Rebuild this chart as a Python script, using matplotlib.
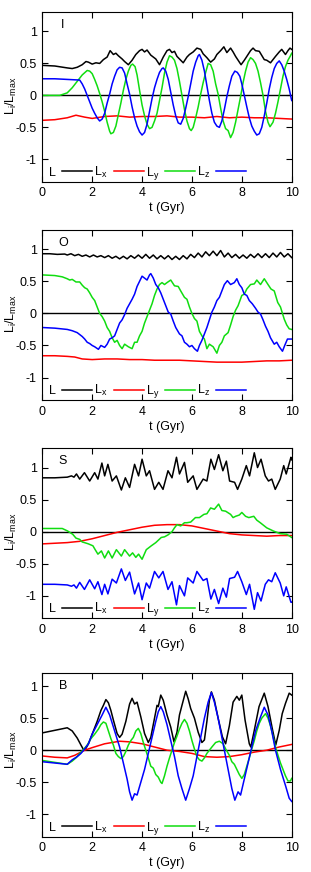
import matplotlib
matplotlib.use("Agg")
import matplotlib.pyplot as plt

plt.rcParams['font.family'] = ['Liberation Sans', 'DejaVu Sans']
plt.rcParams['mathtext.fontset'] = 'custom'
plt.rcParams['mathtext.rm'] = 'Liberation Sans'
plt.rcParams['mathtext.it'] = 'Liberation Sans'
plt.rcParams['axes.unicode_minus'] = False

# ---------------- data ----------------
panel_names = ["I", "O", "S", "B"]
legend_labels = ["L", r"L$_\mathrm{x}$", r"L$_\mathrm{y}$", r"L$_\mathrm{z}$"]
xticks = [0, 2, 4, 6, 8, 10]
xticklabels = ["0", "2", "4", "6", "8", "10"]
yticks = [-1, -0.5, 0, 0.5, 1]
yticklabels = ["-1", "-0.5", "0", "0.5", "1"]

# Panel I
I_L_t = [0.0, 0.5, 1.0, 1.2, 1.4, 1.6, 1.75, 1.85, 2.0, 2.15, 2.3, 2.45, 2.6, 2.72, 2.85, 2.95, 3.05, 3.2, 3.3, 3.45,
         3.6, 3.75, 3.9, 4.0, 4.1, 4.2, 4.35, 4.45, 4.55, 4.7, 4.85, 5.0, 5.1, 5.2, 5.3, 5.4, 5.5, 5.65, 5.8, 5.9,
         6.05, 6.2, 6.35, 6.45, 6.6, 6.75, 6.9, 7.0, 7.15, 7.28, 7.4, 7.55, 7.65, 7.75, 7.97, 8.1, 8.2, 8.35, 8.45,
         8.55, 8.7, 8.9, 9.0, 9.15, 9.35, 9.5, 9.6, 9.75, 9.85, 9.93, 10.0]
I_L = [0.47, 0.46, 0.43, 0.42, 0.44, 0.48, 0.53, 0.52, 0.49, 0.51, 0.50, 0.56, 0.60, 0.70, 0.64, 0.66, 0.62, 0.57, 0.53, 0.48,
       0.55, 0.64, 0.70, 0.72, 0.68, 0.71, 0.63, 0.60, 0.57, 0.48, 0.60, 0.70, 0.72, 0.67, 0.69, 0.61, 0.57, 0.51, 0.60, 0.64,
       0.68, 0.74, 0.72, 0.65, 0.59, 0.52, 0.57, 0.64, 0.70, 0.76, 0.67, 0.74, 0.68, 0.61, 0.48, 0.55, 0.61, 0.70, 0.74,
       0.70, 0.69, 0.56, 0.55, 0.51, 0.61, 0.68, 0.72, 0.64, 0.70, 0.74, 0.72]
I_x_t = [0.0, 0.5, 1.0, 1.35, 1.7, 2.0, 2.5, 3.0, 3.5, 4.0, 4.5, 5.0, 5.5, 6.0, 6.5, 7.0, 7.5, 8.0, 8.5, 9.0, 9.5, 10.0]
I_x = [-0.39, -0.38, -0.35, -0.31, -0.34, -0.36, -0.33, -0.32, -0.34, -0.33, -0.33, -0.32, -0.34, -0.34, -0.35, -0.33,
       -0.35, -0.34, -0.35, -0.35, -0.36, -0.37]
I_y_t = [0.0, 0.7, 1.0, 1.2, 1.4, 1.6, 1.8, 1.9, 2.0, 2.1, 2.2, 2.3, 2.4, 2.5, 2.6, 2.7, 2.75, 2.85, 2.95, 3.05, 3.15,
         3.25, 3.35, 3.45, 3.55, 3.62, 3.72, 3.8, 3.9, 4.0, 4.1, 4.2, 4.3, 4.4, 4.5, 4.6, 4.7, 4.8, 4.9, 5.0, 5.1, 5.2,
         5.3, 5.4, 5.5, 5.6, 5.7, 5.8, 5.9, 5.97, 6.05, 6.15, 6.25, 6.35, 6.45, 6.55, 6.65, 6.75, 6.85, 6.95, 7.05,
         7.15, 7.25, 7.35, 7.45, 7.55, 7.65, 7.75, 7.85, 7.95, 8.05, 8.15, 8.25, 8.35, 8.45, 8.55, 8.65, 8.75, 8.85,
         8.95, 9.05, 9.13, 9.25, 9.35, 9.45, 9.55, 9.65, 9.75, 9.85, 9.95, 10.0]
I_y = [0.0, 0.0, 0.04, 0.12, 0.22, 0.32, 0.39, 0.38, 0.34, 0.25, 0.15, 0.03, -0.10, -0.25, -0.42, -0.56, -0.60, -0.58,
       -0.48, -0.30, -0.12, 0.08, 0.25, 0.38, 0.47, 0.49, 0.45, 0.32, 0.08, -0.15, -0.32, -0.45, -0.52, -0.50, -0.40,
       -0.28, -0.08, 0.12, 0.35, 0.52, 0.62, 0.60, 0.55, 0.42, 0.22, 0.0, -0.22, -0.40, -0.52, -0.55, -0.50, -0.35,
       -0.18, 0.02, 0.20, 0.36, 0.50, 0.48, 0.38, 0.18, 0.02, -0.20, -0.40, -0.52, -0.55, -0.66, -0.58, -0.42, -0.22,
       -0.02, 0.20, 0.38, 0.52, 0.59, 0.56, 0.50, 0.38, 0.20, 0.0, -0.25, -0.42, -0.49, -0.42, -0.28, -0.10, 0.10,
       0.30, 0.45, 0.55, 0.62, 0.66]
I_z_t = [0.0, 0.5, 1.0, 1.5, 1.6, 1.7, 1.8, 1.9, 2.0, 2.1, 2.2, 2.3, 2.4, 2.5, 2.6, 2.7, 2.8, 2.9, 3.0, 3.1, 3.2, 3.3,
         3.4, 3.5, 3.6, 3.7, 3.8, 3.9, 4.0, 4.1, 4.2, 4.3, 4.4, 4.5, 4.6, 4.7, 4.8, 4.85, 4.95, 5.05, 5.15, 5.25, 5.35,
         5.45, 5.55, 5.65, 5.75, 5.85, 5.95, 6.05, 6.15, 6.25, 6.3, 6.4, 6.5, 6.6, 6.7, 6.8, 6.9, 7.0, 7.1, 7.2, 7.3,
         7.4, 7.5, 7.6, 7.72, 7.82, 7.92, 8.0, 8.1, 8.2, 8.3, 8.4, 8.5, 8.6, 8.7, 8.8, 8.9, 9.0, 9.1, 9.2, 9.3, 9.4,
         9.5, 9.6, 9.7, 9.8, 9.9, 10.0]
I_z = [0.26, 0.26, 0.25, 0.24, 0.18, 0.10, 0.0, -0.10, -0.20, -0.28, -0.35, -0.40, -0.37, -0.28, -0.12, 0.02, 0.18,
       0.30, 0.40, 0.44, 0.43, 0.35, 0.18, 0.02, -0.18, -0.35, -0.48, -0.57, -0.62, -0.58, -0.45, -0.25, -0.05, 0.12,
       0.25, 0.36, 0.42, 0.43, 0.38, 0.25, 0.05, -0.15, -0.32, -0.43, -0.45, -0.36, -0.20, -0.02, 0.18, 0.38, 0.52,
       0.62, 0.64, 0.55, 0.38, 0.15, -0.08, -0.28, -0.42, -0.48, -0.50, -0.40, -0.22, -0.02, 0.15, 0.30, 0.38, 0.36,
       0.30, 0.18, 0.0, -0.18, -0.35, -0.48, -0.56, -0.62, -0.60, -0.50, -0.32, -0.12, 0.10, 0.28, 0.42, 0.50, 0.54,
       0.48, 0.38, 0.25, 0.10, -0.08]

# Panel O
O_L_t = [0.0, 0.3, 0.6, 0.9, 1.0, 1.15, 1.3, 1.45, 1.6, 1.75, 1.9, 2.05, 2.2, 2.35, 2.5, 2.65, 2.8, 2.95, 3.1, 3.25,
         3.4, 3.55, 3.7, 3.85, 4.0, 4.15, 4.3, 4.45, 4.6, 4.75, 4.9, 5.05, 5.2, 5.35, 5.5, 5.65, 5.8, 5.95, 6.1,
         6.25, 6.4, 6.55, 6.7, 6.85, 7.0, 7.15, 7.3, 7.45, 7.6, 7.75, 7.9, 8.05, 8.2, 8.35, 8.5, 8.65, 8.8, 8.95,
         9.1, 9.25, 9.4, 9.55, 9.7, 9.85, 10.0]
O_L = [0.93, 0.93, 0.92, 0.925, 0.91, 0.93, 0.90, 0.92, 0.89, 0.91, 0.88, 0.91, 0.88, 0.90, 0.87, 0.90, 0.86, 0.89,
       0.85, 0.89, 0.85, 0.90, 0.86, 0.91, 0.86, 0.92, 0.86, 0.91, 0.85, 0.90, 0.85, 0.90, 0.84, 0.89, 0.84, 0.90,
       0.85, 0.92, 0.87, 0.94, 0.88, 0.96, 0.90, 0.97, 0.90, 0.98, 0.88, 0.94, 0.87, 0.92, 0.86, 0.91, 0.86, 0.92,
       0.87, 0.93, 0.87, 0.93, 0.87, 0.94, 0.88, 0.95, 0.88, 0.93, 0.87]
O_x_t = [0.0, 0.5, 1.0, 1.3, 1.6, 2.0, 2.5, 3.0, 3.5, 4.0, 4.5, 5.0, 5.5, 6.0, 6.5, 7.0, 7.5, 8.0, 8.5, 9.0, 9.5, 10.0]
O_x = [-0.66, -0.66, -0.67, -0.68, -0.71, -0.72, -0.71, -0.71, -0.72, -0.72, -0.73, -0.73, -0.73, -0.74, -0.75, -0.76,
       -0.76, -0.76, -0.75, -0.74, -0.74, -0.73]
O_y_t = [0.0, 0.5, 0.8, 1.0, 1.1, 1.2, 1.35, 1.5, 1.6, 1.7, 1.8, 1.9, 2.0, 2.1, 2.2, 2.3, 2.4, 2.5, 2.6, 2.7, 2.8, 2.9,
         3.0, 3.1, 3.2, 3.3, 3.45, 3.6, 3.7, 3.8, 3.9, 4.0, 4.1, 4.2, 4.3, 4.4, 4.5, 4.6, 4.7, 4.8, 4.9, 5.0, 5.15,
         5.3, 5.45, 5.55, 5.7, 5.8, 5.9, 6.0, 6.1, 6.2, 6.3, 6.4, 6.5, 6.6, 6.7, 6.85, 7.0, 7.1, 7.2, 7.3, 7.45,
         7.55, 7.65, 7.75, 7.85, 8.0, 8.1, 8.2, 8.35, 8.5, 8.6, 8.75, 8.9, 9.05, 9.17, 9.3, 9.44, 9.55, 9.7, 9.8,
         9.9, 10.0]
O_y = [0.60, 0.59, 0.57, 0.54, 0.52, 0.53, 0.49, 0.49, 0.44, 0.40, 0.38, 0.32, 0.25, 0.20, 0.10, 0.0, -0.05, -0.12,
       -0.22, -0.28, -0.38, -0.45, -0.42, -0.50, -0.55, -0.48, -0.52, -0.55, -0.45, -0.45, -0.35, -0.28, -0.15,
       -0.05, 0.05, 0.15, 0.28, 0.38, 0.45, 0.48, 0.45, 0.48, 0.52, 0.43, 0.42, 0.35, 0.25, 0.22, 0.10, 0.0, -0.08,
       -0.12, -0.28, -0.35, -0.40, -0.55, -0.48, -0.52, -0.62, -0.50, -0.45, -0.35, -0.30, -0.18, -0.05, 0.05, 0.12,
       0.28, 0.30, 0.38, 0.45, 0.46, 0.52, 0.45, 0.54, 0.45, 0.38, 0.35, 0.17, 0.10, -0.09, -0.18, -0.24, -0.25]
O_z_t = [0.0, 0.5, 1.0, 1.2, 1.4, 1.6, 1.7, 1.8, 1.9, 2.0, 2.1, 2.25, 2.35, 2.5, 2.6, 2.7, 2.8, 2.9, 3.0, 3.1, 3.2,
         3.3, 3.4, 3.5, 3.6, 3.7, 3.8, 3.9, 4.0, 4.1, 4.2, 4.3, 4.35, 4.45, 4.55, 4.65, 4.75, 4.85, 4.95, 5.05, 5.15,
         5.25, 5.35, 5.5, 5.6, 5.7, 5.8, 5.9, 6.0, 6.1, 6.22, 6.3, 6.4, 6.5, 6.6, 6.7, 6.8, 6.9, 7.0, 7.1, 7.2, 7.3,
         7.42, 7.55, 7.7, 7.8, 7.9, 8.0, 8.1, 8.2, 8.3, 8.42, 8.55, 8.65, 8.75, 8.85, 8.95, 9.05, 9.15, 9.3, 9.4,
         9.5, 9.63, 9.72, 9.83, 10.0]
O_z = [-0.22, -0.23, -0.25, -0.27, -0.30, -0.36, -0.40, -0.45, -0.47, -0.50, -0.52, -0.56, -0.50, -0.53, -0.48, -0.40,
       -0.38, -0.35, -0.25, -0.15, -0.10, -0.02, 0.08, 0.15, 0.22, 0.30, 0.42, 0.50, 0.58, 0.55, 0.52, 0.60, 0.62,
       0.55, 0.45, 0.40, 0.32, 0.22, 0.12, 0.02, -0.01, -0.12, -0.22, -0.32, -0.35, -0.45, -0.48, -0.52, -0.50,
       -0.55, -0.59, -0.50, -0.42, -0.32, -0.22, -0.10, 0.02, 0.10, 0.20, 0.25, 0.35, 0.45, 0.51, 0.45, 0.48, 0.54,
       0.45, 0.40, 0.30, 0.28, 0.20, 0.15, 0.08, 0.02, -0.01, -0.10, -0.20, -0.28, -0.38, -0.48, -0.45, -0.52,
       -0.59, -0.50, -0.40, -0.40]

# Panel S
S_L_t = [0.0, 0.5, 1.0, 1.17, 1.27, 1.37, 1.5, 1.69, 1.9, 2.1, 2.23, 2.39, 2.5, 2.63, 2.8, 2.97, 3.17, 3.33, 3.5, 3.7,
         3.86, 4.0, 4.17, 4.3, 4.5, 4.67, 4.84, 5.04, 5.2, 5.38, 5.5, 5.7, 5.83, 6.05, 6.2, 6.45, 6.6, 6.76, 6.9,
         7.07, 7.24, 7.38, 7.51, 7.71, 7.83, 8.0, 8.18, 8.31, 8.5, 8.63, 8.77, 8.94, 9.07, 9.2, 9.34, 9.54, 9.68,
         9.78, 9.97, 10.0]
S_L = [0.84, 0.84, 0.85, 0.87, 0.85, 0.90, 0.82, 0.92, 0.79, 0.92, 0.82, 1.07, 0.87, 1.05, 0.79, 0.87, 0.65, 0.84,
       0.69, 1.05, 0.87, 1.13, 0.87, 0.95, 0.66, 0.77, 0.66, 0.95, 0.84, 1.16, 0.90, 1.08, 0.77, 0.87, 0.66, 0.82,
       0.79, 1.13, 0.97, 1.20, 0.95, 1.10, 0.79, 0.77, 0.66, 0.82, 1.03, 0.87, 1.23, 1.00, 1.13, 0.87, 0.79, 0.82,
       0.66, 0.82, 1.03, 0.90, 1.16, 1.12]
S_x_t = [0.0, 0.5, 1.0, 1.5, 2.0, 2.5, 3.0, 3.5, 4.0, 4.5, 5.0, 5.5, 6.0, 6.5, 7.0, 7.5, 8.0, 8.5, 9.0, 9.5, 10.0]
S_x = [-0.19, -0.18, -0.17, -0.15, -0.11, -0.06, -0.01, 0.03, 0.07, 0.10, 0.11, 0.11, 0.09, 0.05, 0.01, -0.03, -0.05,
       -0.06, -0.07, -0.06, -0.06]
S_y_t = [0.0, 0.8, 1.02, 1.22, 1.35, 1.5, 1.6, 1.69, 1.85, 2.03, 2.12, 2.23, 2.37, 2.5, 2.65, 2.8, 2.97, 3.17, 3.3,
         3.5, 3.62, 3.75, 3.86, 4.0, 4.17, 4.37, 4.55, 4.77, 4.9, 5.04, 5.2, 5.3, 5.4, 5.55, 5.7, 5.8, 5.95, 6.14,
         6.3, 6.48, 6.6, 6.75, 6.9, 7.07, 7.2, 7.35, 7.55, 7.65, 7.75, 7.9, 8.0, 8.15, 8.28, 8.48, 8.6, 8.74, 9.0,
         9.27, 9.54, 9.8, 10.0]
S_y = [0.05, 0.05, 0.01, -0.04, -0.10, -0.12, -0.16, -0.17, -0.19, -0.22, -0.28, -0.35, -0.30, -0.41, -0.30, -0.41,
       -0.28, -0.38, -0.28, -0.38, -0.33, -0.40, -0.35, -0.43, -0.28, -0.22, -0.17, -0.09, -0.08, -0.05, 0.0, 0.06,
       0.11, 0.09, 0.14, 0.14, 0.15, 0.22, 0.22, 0.27, 0.28, 0.37, 0.35, 0.43, 0.33, 0.32, 0.27, 0.22, 0.24, 0.26,
       0.30, 0.24, 0.22, 0.24, 0.18, 0.14, 0.06, 0.01, -0.03, -0.04, -0.09]
S_z_t = S_L_t
S_z = [-0.82, -0.82, -0.83, -0.85, -0.83, -0.88, -0.79, -0.90, -0.75, -0.89, -0.78, -0.98, -0.82, -0.97, -0.74, -0.80,
       -0.58, -0.76, -0.63, -0.97, -0.80, -1.06, -0.80, -0.88, -0.62, -0.72, -0.62, -0.90, -0.78, -1.14, -0.84, -1.00,
       -0.72, -0.80, -0.62, -0.76, -0.73, -1.05, -0.90, -1.12, -0.88, -1.02, -0.73, -0.71, -0.62, -0.78, -0.98, -0.82,
       -1.21, -0.95, -1.08, -0.82, -0.75, -0.78, -0.64, -0.80, -1.00, -0.86, -1.10, -1.10]

# Panel B
B_L_t = [0.0, 0.5, 1.0, 1.2, 1.4, 1.55, 1.65, 1.75, 1.85, 2.0, 2.2, 2.35, 2.45, 2.55, 2.65, 2.75, 2.85, 3.0, 3.1, 3.2,
         3.35, 3.5, 3.6, 3.7, 3.8, 3.95, 4.1, 4.25, 4.35, 4.5, 4.6, 4.65, 4.75, 4.85, 5.0, 5.15, 5.28, 5.4, 5.5, 5.6,
         5.75, 5.85, 5.95, 6.1, 6.25, 6.4, 6.5, 6.6, 6.7, 6.78, 6.9, 7.05, 7.22, 7.35, 7.5, 7.65, 7.8, 7.9, 8.0, 8.13,
         8.3, 8.36, 8.5, 8.69, 8.9, 9.05, 9.22, 9.36, 9.5, 9.62, 9.75, 9.9, 10.0]
B_L = [0.27, 0.31, 0.35, 0.30, 0.19, 0.08, 0.01, 0.03, 0.10, 0.25, 0.45, 0.62, 0.70, 0.79, 0.74, 0.62, 0.47, 0.26, 0.20,
       0.25, 0.45, 0.72, 0.81, 0.72, 0.75, 0.52, 0.26, 0.12, 0.20, 0.50, 0.70, 0.68, 0.86, 0.78, 0.55, 0.36, 0.13,
       0.28, 0.55, 0.70, 0.92, 0.80, 0.65, 0.50, 0.28, 0.12, 0.16, 0.45, 0.78, 0.91, 0.78, 0.50, 0.21, 0.10, 0.38,
       0.75, 0.84, 0.78, 0.86, 0.47, 0.10, 0.05, 0.31, 0.68, 0.89, 0.68, 0.34, 0.08, 0.31, 0.57, 0.73, 0.89, 0.86]
B_x_t = [0.0, 0.5, 1.0, 1.3, 1.5, 1.7, 2.0, 2.5, 3.1, 3.5, 4.0, 4.5, 5.0, 5.5, 6.0, 6.5, 7.0, 7.5, 8.0, 8.5, 9.0, 9.5, 10.0]
B_x = [-0.09, -0.11, -0.12, -0.08, -0.04, 0.0, 0.04, 0.10, 0.14, 0.13, 0.10, 0.05, 0.0, -0.02, -0.05, -0.10, -0.11,
       -0.10, -0.07, -0.03, 0.0, 0.05, 0.09]
B_y_t = [0.0, 0.5, 1.0, 1.2, 1.35, 1.5, 1.65, 1.8, 1.95, 2.1, 2.25, 2.35, 2.45, 2.55, 2.65, 2.75, 2.85, 2.95, 3.05, 3.15,
         3.25, 3.35, 3.45, 3.55, 3.65, 3.75, 3.85, 3.95, 4.05, 4.15, 4.25, 4.35, 4.45, 4.55, 4.65, 4.75, 4.8, 4.9, 5.0,
         5.1, 5.2, 5.3, 5.4, 5.5, 5.6, 5.7, 5.8, 5.9, 6.0, 6.1, 6.2, 6.3, 6.4, 6.5, 6.6, 6.7, 6.8, 6.95, 7.1, 7.25,
         7.35, 7.5, 7.6, 7.7, 7.8, 7.9, 8.0, 8.1, 8.2, 8.3, 8.4, 8.5, 8.6, 8.7, 8.8, 8.95, 9.05, 9.15, 9.25, 9.35,
         9.45, 9.55, 9.65, 9.75, 9.85, 9.95, 10.0]
B_y = [-0.16, -0.19, -0.22, -0.17, -0.12, -0.05, 0.01, 0.08, 0.18, 0.25, 0.33, 0.40, 0.44, 0.42, 0.30, 0.18, 0.08,
       -0.05, -0.10, -0.13, -0.10, -0.02, 0.08, 0.15, 0.20, 0.30, 0.34, 0.26, 0.12, 0.0, -0.12, -0.25, -0.28, -0.38,
       -0.42, -0.50, -0.52, -0.40, -0.25, -0.12, 0.0, 0.12, 0.22, 0.33, 0.42, 0.48, 0.42, 0.30, 0.15, 0.02, -0.10,
       -0.15, -0.17, -0.12, -0.05, 0.0, 0.05, 0.12, 0.14, 0.10, 0.02, -0.08, -0.18, -0.22, -0.30, -0.38, -0.44,
       -0.38, -0.25, -0.12, 0.02, 0.15, 0.30, 0.42, 0.50, 0.57, 0.50, 0.38, 0.22, 0.05, -0.08, -0.20, -0.30, -0.40,
       -0.48, -0.48, -0.44]
B_z_t = [0.0, 0.5, 1.0, 1.2, 1.4, 1.55, 1.7, 1.85, 2.0, 2.2, 2.4, 2.55, 2.7, 2.9, 3.1, 3.25, 3.4, 3.5, 3.6, 3.7, 3.8,
         3.95, 4.1, 4.25, 4.4, 4.55, 4.65, 4.75, 4.85, 5.0, 5.15, 5.3, 5.45, 5.6, 5.75, 5.9, 6.05, 6.2, 6.35, 6.5,
         6.65, 6.78, 6.9, 7.05, 7.2, 7.35, 7.5, 7.6, 7.72, 7.85, 7.95, 8.1, 8.25, 8.4, 8.55, 8.75, 8.9, 9.05, 9.2,
         9.35, 9.55, 9.75, 9.9, 10.0]
B_z = [-0.18, -0.20, -0.22, -0.15, -0.10, -0.05, 0.02, 0.10, 0.25, 0.40, 0.55, 0.67, 0.55, 0.30, 0.05, -0.20, -0.45,
       -0.65, -0.78, -0.68, -0.70, -0.50, -0.30, -0.05, 0.20, 0.45, 0.60, 0.68, 0.60, 0.40, 0.15, -0.10, -0.40, -0.60,
       -0.78, -0.60, -0.40, -0.10, 0.20, 0.50, 0.75, 0.90, 0.75, 0.50, 0.20, -0.10, -0.40, -0.60, -0.78, -0.65, -0.70,
       -0.45, -0.20, 0.05, 0.30, 0.52, 0.67, 0.55, 0.30, 0.0, -0.30, -0.55, -0.75, -0.80]

panels = [
    ("I", [(I_L_t, I_L), (I_x_t, I_x), (I_y_t, I_y), (I_z_t, I_z)], 1.3),
    ("O", [(O_L_t, O_L), (O_x_t, O_x), (O_y_t, O_y), (O_z_t, O_z)], 1.3),
    ("S", [(S_L_t, S_L), (S_x_t, S_x), (S_y_t, S_y), (S_z_t, S_z)], 1.3),
    ("B", [(B_L_t, B_L), (B_x_t, B_x), (B_y_t, B_y), (B_z_t, B_z)], 1.2),
]

colors = ["black", "#ff0000", "#10dd10", "#0000ff"]

# ---------------- figure ----------------
W, H = 311, 872
fig = plt.figure(figsize=(W / 100, H / 100), dpi=100)

ax_px = [(12.3, 181.7), (230.0, 400.0), (448.3, 618.3), (673.3, 836.7)]
left_px, right_px = 42.3, 291.7
fs = 9

for (name, series, ytop), (top, bot) in zip(panels, ax_px):
    h = bot - top
    ax = fig.add_axes([left_px / W, 1 - bot / H, (right_px - left_px) / W, h / H])
    ax.axhline(0, color="black", lw=1.0, zorder=1)
    for (t, v), c, lab in zip(series, colors, legend_labels):
        ax.plot(t, v, color=c, lw=1.1, label=lab, zorder=2)
    ax.set_xlim(0, 10)
    ax.set_ylim(-1.35, ytop)
    ax.set_xticks(xticks)
    ax.set_xticklabels(xticklabels)
    ax.set_yticks(yticks)
    ax.set_yticklabels(yticklabels)
    ax.tick_params(direction="in", length=4, width=0.8, top=True, right=True, labelsize=fs, pad=4)
    ax.set_xlabel("t (Gyr)", fontsize=fs)
    ax.xaxis.set_label_coords(0.5, -20.5 / h)
    ax.set_ylabel(r"L$_\mathrm{i}$/L$_\mathrm{max}$", fontsize=fs)
    ax.yaxis.set_label_coords(-0.095, 1.35 / (ytop + 1.35))
    ax.text(0.083, 1 - 13.0 / h, name, transform=ax.transAxes, fontsize=fs,
            ha="center", va="center")
    ax.legend(loc="center left", bbox_to_anchor=(0.027, 8.5 / h), ncol=4, frameon=False,
              markerfirst=False, fontsize=fs, handlelength=2.4, handletextpad=0.5,
              columnspacing=0.15, borderpad=0, borderaxespad=0)
    for s in ax.spines.values():
        s.set_linewidth(0.8)

fig.savefig("out.png", dpi=100)
